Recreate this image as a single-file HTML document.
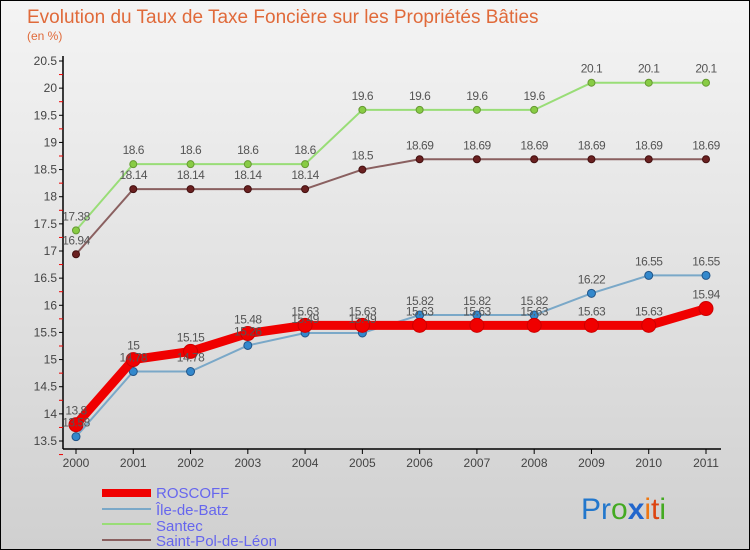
<!DOCTYPE html>
<html><head><meta charset="utf-8"><style>
body{margin:0;}
#wrap{width:750px;height:550px;position:relative;background:linear-gradient(#f4f4f4,#d0d0d0);box-sizing:border-box;border:1px solid #000;overflow:hidden;font-family:"Liberation Sans",sans-serif;}
.t{font-family:"Liberation Sans",sans-serif;}
</style></head><body>
<div id="wrap">
<svg id="svg" width="750" height="550" style="position:absolute;left:0;top:0">
<text x="26" y="22" font-size="19" fill="#e06a3a" class="t">Evolution du Taux de Taxe Foncière sur les Propriétés Bâties</text>
<text x="26" y="39" font-size="12" fill="#e06a3a" class="t">(en %)</text>
<g id="axes"></g><g id="series"></g><g id="labels"></g>
<g>
<rect x="101" y="488" width="49" height="8" fill="#f00000"/>
<text x="155" y="497" font-size="15" fill="#6666ee" class="t">ROSCOFF</text>
<rect x="101" y="507" width="49" height="2" fill="#7aa8c8"/>
<text x="155" y="514" font-size="15" fill="#6666ee" class="t">Île-de-Batz</text>
<rect x="101" y="522" width="49" height="2" fill="#99dd77"/>
<text x="155" y="530" font-size="15" fill="#6666ee" class="t">Santec</text>
<rect x="101" y="538" width="49" height="2" fill="#8a6060"/>
<text x="155" y="545" font-size="15" fill="#6666ee" class="t">Saint-Pol-de-Léon</text>
</g>
<text x="580" y="518" font-size="30" class="t"><tspan fill="#2277cc">Pr</tspan><tspan fill="#44aa22">o</tspan><tspan fill="#2266cc" font-weight="bold">x</tspan><tspan fill="#ee7711">i</tspan><tspan fill="#dd4411">t</tspan><tspan fill="#44aa22">i</tspan></text>
</svg>
</div>
<script>
const years=[2000,2001,2002,2003,2004,2005,2006,2007,2008,2009,2010,2011];
const roscoff=[13.8,15,15.15,15.48,15.63,15.63,15.63,15.63,15.63,15.63,15.63,15.94];
const batz=[13.58,14.78,14.78,15.26,15.49,15.49,15.82,15.82,15.82,16.22,16.55,16.55];
const santec=[17.38,18.6,18.6,18.6,18.6,19.6,19.6,19.6,19.6,20.1,20.1,20.1];
const stpol=[16.94,18.14,18.14,18.14,18.14,18.5,18.69,18.69,18.69,18.69,18.69,18.69];
const yTicks=[13.5,14,14.5,15,15.5,16,16.5,17,17.5,18,18.5,19,19.5,20,20.5];
const NS="http://www.w3.org/2000/svg";
function xs(i){return 75+i*(630/11);}
function ys(v){return 440-(v-13.5)*(380/7);}
function mk(t,a,p){const e=document.createElementNS(NS,t);for(const k in a)e.setAttribute(k,a[k]);p.appendChild(e);return e;}
const ax=document.getElementById('axes'),se=document.getElementById('series'),lb=document.getElementById('labels');
let yl=mk('line',{x1:62,y1:55,x2:62,y2:448,stroke:'#000','stroke-width':1.5},ax);


let xl=mk('line',{x1:62,y1:448,x2:720,y2:448,stroke:'#000','stroke-width':1.5},ax);


yTicks.forEach(v=>{const y=ys(v);
mk('line',{x1:58,y1:y,x2:62,y2:y,stroke:'#000'},ax);
mk('line',{x1:58,y1:y+13.57,x2:62,y2:y+13.57,stroke:'#e00'},ax);
const t=mk('text',{x:56,y:y+4,'font-size':12,fill:'#444','text-anchor':'end',class:'t'},ax);t.textContent=v;

});
years.forEach((yr,i)=>{const x=xs(i);
mk('line',{x1:x,y1:448,x2:x,y2:453,stroke:'#000'},ax);
const t=mk('text',{x:x,y:466,'font-size':12,fill:'#444','text-anchor':'middle',class:'t'},ax);t.textContent=yr;

});
function draw(name,d,col,w,r,dot,stroke){
const pts=d.map((v,i)=>xs(i)+','+ys(v)).join(' ');
const p=mk('polyline',{points:pts,fill:'none',stroke:col,'stroke-width':w,'stroke-linejoin':'round'},se);


d.forEach((v,i)=>{const c=mk('circle',{cx:xs(i),cy:ys(v),r:r,fill:dot,stroke:stroke,'stroke-width':1},se);


const t=mk('text',{x:xs(i),y:ys(v)-10,'font-size':12,fill:'#555','text-anchor':'middle',class:'t','letter-spacing':'-0.5'},lb);t.textContent=v;

});}
draw('santec',santec,'#99dd77',2,3.5,'#88cc44','#669933');
draw('saint-pol',stpol,'#8a6060',2,3.5,'#6a2020','#441010');
draw('ile-de-batz',batz,'#7aa8c8',2,4,'#3388cc','#225588');
draw('roscoff',roscoff,'#f00000',9,7,'#f00000','#cc0000');
</script>
</body></html>
